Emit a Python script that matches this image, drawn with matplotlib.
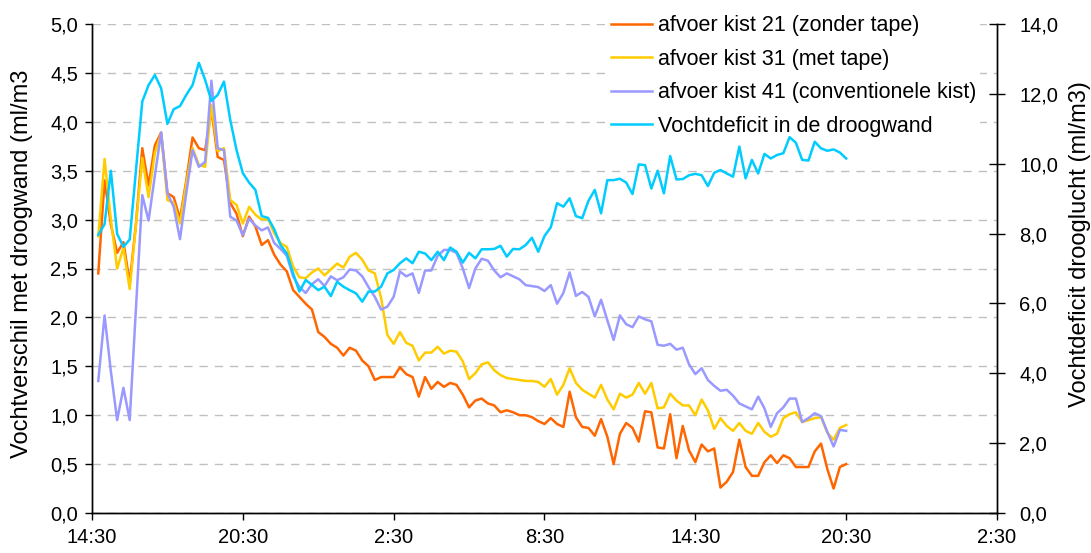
import numpy as np
import matplotlib
matplotlib.use('Agg')
import matplotlib.pyplot as plt
from matplotlib.ticker import FuncFormatter, MultipleLocator

plt.rcParams['font.family'] = ['Liberation Sans', 'DejaVu Sans']

# metingen elk kwartier, vanaf 14:45 (uren na 14:30)
uren = np.arange(1, 121) * 0.25

# afvoer kist 21 (zonder tape)
kist21 = [2.45, 3.40, 2.95, 2.66, 2.77, 2.35, 2.96, 3.73, 3.35, 3.76, 3.89, 3.27, 3.23, 3.01, 3.40,
          3.84, 3.73, 3.71, 4.12, 3.64, 3.61, 3.17, 3.06, 2.83, 3.03, 2.93, 2.74,
          2.79, 2.64, 2.54, 2.47, 2.28, 2.21, 2.14, 2.08, 1.85, 1.80, 1.73, 1.69, 1.61, 1.69, 1.66,
          1.56, 1.50, 1.36, 1.39, 1.39, 1.39, 1.49, 1.42, 1.39, 1.19, 1.39, 1.27, 1.34, 1.29, 1.33,
          1.31, 1.21, 1.08, 1.15, 1.17, 1.12, 1.10, 1.03, 1.05, 1.03, 1.00, 1.00, 0.98, 0.94, 0.91,
          0.97, 0.91, 0.88, 1.24, 0.98, 0.88, 0.87, 0.79, 0.96, 0.78, 0.50, 0.81, 0.92, 0.87, 0.73,
          1.04, 1.03, 0.67, 0.66, 1.01, 0.56, 0.89, 0.64, 0.52, 0.70, 0.63, 0.66, 0.26, 0.32, 0.42,
          0.75, 0.47, 0.38, 0.38, 0.52, 0.59, 0.51, 0.59, 0.56, 0.47, 0.47, 0.47, 0.63, 0.71, 0.45,
          0.25, 0.47, 0.50]

# afvoer kist 31 (met tape)
kist31 = [2.83, 3.62, 3.00, 2.50, 2.71, 2.29, 2.95, 3.63, 3.23, 3.68, 3.88, 3.20, 3.17, 2.96, 3.37,
          3.73, 3.56, 3.54, 4.17, 3.70, 3.73, 3.20, 3.15, 2.96, 3.13, 3.05, 3.00,
          3.01, 2.86, 2.76, 2.72, 2.52, 2.41, 2.40, 2.46, 2.50, 2.43, 2.49, 2.55, 2.51, 2.62, 2.66,
          2.59, 2.48, 2.45, 2.20, 1.82, 1.73, 1.85, 1.74, 1.71, 1.56, 1.64, 1.64, 1.70, 1.63, 1.66,
          1.65, 1.55, 1.37, 1.43, 1.52, 1.54, 1.46, 1.41, 1.38, 1.37, 1.36, 1.35, 1.35, 1.34, 1.29,
          1.37, 1.21, 1.31, 1.48, 1.33, 1.26, 1.22, 1.18, 1.31, 1.16, 1.06, 1.22, 1.18, 1.21, 1.33,
          1.22, 1.33, 1.07, 1.08, 1.22, 1.15, 1.10, 1.10, 1.00, 1.16, 1.05, 0.86, 0.97, 0.89, 0.84,
          0.92, 0.84, 0.81, 0.92, 0.83, 0.78, 0.81, 0.97, 1.01, 1.03, 0.93, 0.95, 0.97, 0.98, 0.82,
          0.75, 0.87, 0.90]

# afvoer kist 41 (conventionele kist)
kist41 = [1.35, 2.02, 1.45, 0.95, 1.28, 0.95, 2.10, 3.25, 2.99, 3.45, 3.89, 3.27, 3.13, 2.80, 3.27,
          3.71, 3.54, 3.59, 4.42, 3.73, 3.71, 3.03, 2.99, 2.84, 3.01, 2.94, 2.89,
          2.92, 2.76, 2.70, 2.63, 2.42, 2.31, 2.25, 2.34, 2.39, 2.32, 2.42, 2.38, 2.41, 2.49, 2.48,
          2.42, 2.31, 2.21, 2.08, 2.11, 2.21, 2.47, 2.42, 2.45, 2.25, 2.48, 2.48, 2.63, 2.69, 2.69,
          2.66, 2.50, 2.30, 2.50, 2.60, 2.58, 2.48, 2.41, 2.45, 2.42, 2.39, 2.33, 2.32, 2.31, 2.27,
          2.33, 2.14, 2.25, 2.46, 2.22, 2.26, 2.21, 2.01, 2.18, 1.97, 1.77, 2.02, 1.93, 1.90, 2.01,
          1.98, 1.96, 1.72, 1.71, 1.73, 1.67, 1.69, 1.52, 1.42, 1.48, 1.36, 1.30, 1.25, 1.26, 1.20,
          1.12, 1.09, 1.06, 1.19, 1.07, 0.88, 1.02, 1.08, 1.17, 1.17, 0.93, 0.97, 1.02, 0.99, 0.83,
          0.68, 0.85, 0.84]

# Vochtdeficit in de droogwand (rechter as)
deficit = [7.96, 8.27, 9.80, 7.99, 7.62, 7.83, 9.82, 11.78, 12.25, 12.54, 12.16, 11.14, 11.56, 11.65,
           11.97, 12.25, 12.89, 12.40, 11.80, 11.97, 12.35, 11.25, 10.39, 9.73, 9.46, 9.25, 8.50,
           8.45, 8.12, 7.67, 7.43, 6.86, 6.34, 6.67, 6.53, 6.38, 6.48, 6.21, 6.62, 6.48, 6.38, 6.29,
           6.05, 6.34, 6.34, 6.48, 6.86, 6.96, 7.15, 7.29, 7.15, 7.48, 7.43, 7.24, 7.48, 7.24, 7.60,
           7.48, 7.17, 7.45, 7.29, 7.55, 7.55, 7.56, 7.65, 7.34, 7.56, 7.55, 7.67, 7.88, 7.48, 7.93,
           8.18, 8.87, 8.77, 9.01, 8.50, 8.44, 8.94, 9.25, 8.58, 9.53, 9.53, 9.57, 9.46, 9.13, 9.98,
           9.96, 9.29, 9.80, 9.15, 10.22, 9.55, 9.56, 9.67, 9.71, 9.67, 9.36, 9.74, 9.82, 9.72, 9.63,
           10.49, 9.58, 10.11, 9.72, 10.28, 10.15, 10.25, 10.30, 10.76, 10.60, 10.11, 10.09, 10.63,
           10.44, 10.37, 10.41, 10.32, 10.15]

tijd_labels = ['14:30', '20:30', '2:30', '8:30', '14:30', '20:30', '2:30']

komma = FuncFormatter(lambda v, p: f'{v:.1f}'.replace('.', ','))

fig = plt.figure(figsize=(10.91, 5.53), dpi=100)
ax = fig.add_axes([92/1091, 1 - 513/553, (997 - 92)/1091, (513 - 24)/553])
ax2 = ax.twinx()

l1, = ax.plot(uren, kist21, color='#FF6600', lw=1.8, label='afvoer kist 21 (zonder tape)')
l2, = ax.plot(uren, kist31, color='#FFCC00', lw=1.8, label='afvoer kist 31 (met tape)')
l3, = ax.plot(uren, kist41, color='#9999FF', lw=1.8, label='afvoer kist 41 (conventionele kist)')
l4, = ax2.plot(uren, deficit, color='#00CCFF', lw=1.8, label='Vochtdeficit in de droogwand')

ax.set_xlim(0, 36)
ax.set_xticks(range(0, 37, 6))
ax.set_xticklabels(tijd_labels)
ax.set_ylim(0, 5)
ax.yaxis.set_major_locator(MultipleLocator(0.5))
ax.yaxis.set_major_formatter(komma)
ax2.set_ylim(0, 14)
ax2.yaxis.set_major_locator(MultipleLocator(2))
ax2.yaxis.set_major_formatter(komma)

ax.grid(axis='y', color='#C0C0C0', linestyle=(0, (6, 5)), lw=1)
ax.set_axisbelow(True)

for a in (ax, ax2):
    a.spines['top'].set_visible(False)
    for s in a.spines.values():
        s.set_linewidth(1)
ax.tick_params(axis='both', labelsize=14.5, length=5, width=1)
ax.tick_params(axis='y', direction='out', pad=5)
ax.tick_params(axis='x', pad=6)
ax2.tick_params(axis='y', labelsize=14.5, direction='inout', length=12, width=1, pad=10)

# aslabels
fig.text(22/1091, 1 - 264/553, 'Vochtverschil met droogwand (ml/m3', rotation=90,
         fontsize=17, ha='center', va='center')
fig.text(1080/1091, 1 - 244/553, 'Vochtdeficit drooglucht (ml/m3)', rotation=90,
         fontsize=17, ha='center', va='center')

# legenda op de linker as, zodat de lijn van de rechter as erover loopt
leg = ax.legend(handles=[l1, l2, l3, l4], loc='upper left',
                bbox_to_anchor=(607/1091, 1 - 11/553), bbox_transform=fig.transFigure,
                borderaxespad=0, fontsize=15.5, frameon=True, fancybox=False,
                edgecolor='none', facecolor='white', framealpha=1, handlelength=1.9,
                handletextpad=0.25, labelspacing=0.58, borderpad=0.2)

fig.savefig('out.png', dpi=100)
